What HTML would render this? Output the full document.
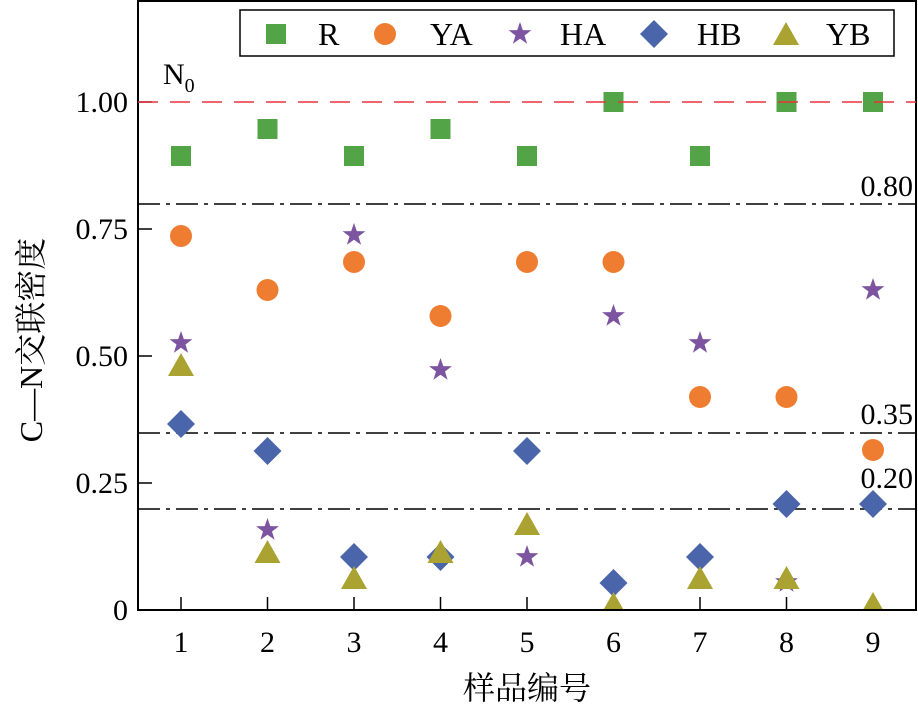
<!DOCTYPE html>
<html><head><meta charset="utf-8"><style>body{margin:0;background:#fff}svg{display:block}</style></head><body>
<svg width="918" height="704" xmlns="http://www.w3.org/2000/svg" font-family="'Liberation Serif','Noto Serif CJK SC',serif">
<defs>
<rect id="sq" x="-10" y="-10" width="20" height="20" fill="#52a447"/>
<circle id="ci" r="11" fill="#ef7d31"/>
<polygon id="st" points="0,-12 2.8,-3.9 11.4,-3.7 4.5,1.5 7.1,9.7 0,4.8 -7.1,9.7 -4.5,1.5 -11.4,-3.7 -2.8,-3.9" fill="#7d54a0"/>
<polygon id="di" points="0,-14 14,0 0,14 -14,0" fill="#4a65aa"/>
<polygon id="tr" points="0,-13 13,10 -13,10" fill="#aaa332"/>
</defs>
<rect x="138" y="1" width="778" height="609" fill="none" stroke="#000" stroke-width="2"/>
<g stroke="#000" stroke-width="1.5" stroke-dasharray="22,6,4,6">
<line x1="138" y1="204" x2="916" y2="204"/>
<line x1="138" y1="433" x2="916" y2="433"/>
<line x1="138" y1="509" x2="916" y2="509"/>
</g>
<g stroke="#000" stroke-width="1.5">
<line x1="138" y1="102" x2="152" y2="102"/><line x1="138" y1="229" x2="152" y2="229"/><line x1="138" y1="356" x2="152" y2="356"/><line x1="138" y1="483" x2="152" y2="483"/>
<line x1="181" y1="610" x2="181" y2="597"/><line x1="267.5" y1="610" x2="267.5" y2="597"/><line x1="354" y1="610" x2="354" y2="597"/><line x1="440.5" y1="610" x2="440.5" y2="597"/><line x1="527" y1="610" x2="527" y2="597"/><line x1="613.5" y1="610" x2="613.5" y2="597"/><line x1="700" y1="610" x2="700" y2="597"/><line x1="786.5" y1="610" x2="786.5" y2="597"/><line x1="873" y1="610" x2="873" y2="597"/>
</g>
<g font-size="30" text-anchor="end">
<text x="128" y="112">1.00</text><text x="128" y="239">0.75</text><text x="128" y="366">0.50</text><text x="128" y="493">0.25</text><text x="128" y="620">0</text>
</g>
<g font-size="30" text-anchor="middle">
<text x="181" y="652">1</text><text x="267.5" y="652">2</text><text x="354" y="652">3</text><text x="440.5" y="652">4</text><text x="527" y="652">5</text><text x="613.5" y="652">6</text><text x="700" y="652">7</text><text x="786.5" y="652">8</text><text x="873" y="652">9</text>
</g>
<text x="527" y="699" font-size="32" text-anchor="middle">样品编号</text>
<text transform="translate(42,340) rotate(-90)" font-size="32" text-anchor="middle">C—N交联密度</text>
<g font-size="30" text-anchor="end">
<text x="913" y="196">0.80</text><text x="913" y="424">0.35</text><text x="913" y="488">0.20</text>
</g>
<text x="163" y="84" font-size="30">N<tspan font-size="20" dy="8">0</tspan></text>
<g>
<use href="#sq" x="181" y="156"/><use href="#sq" x="267.5" y="129"/><use href="#sq" x="354" y="156"/><use href="#sq" x="440.5" y="129"/><use href="#sq" x="527" y="156"/><use href="#sq" x="613.5" y="102"/><use href="#sq" x="700" y="156"/><use href="#sq" x="786.5" y="102"/><use href="#sq" x="873" y="102"/>
<use href="#ci" x="181" y="236"/><use href="#ci" x="267.5" y="290"/><use href="#ci" x="354" y="262"/><use href="#ci" x="440.5" y="316"/><use href="#ci" x="527" y="262"/><use href="#ci" x="613.5" y="262"/><use href="#ci" x="700" y="397"/><use href="#ci" x="786.5" y="397"/><use href="#ci" x="873" y="450"/>
<use href="#st" x="181" y="343"/><use href="#st" x="267.5" y="530"/><use href="#st" x="354" y="235"/><use href="#st" x="440.5" y="370"/><use href="#st" x="527" y="557"/><use href="#st" x="613.5" y="316"/><use href="#st" x="700" y="343"/><use href="#st" x="786.5" y="582"/><use href="#st" x="873" y="290"/>
<use href="#di" x="181" y="424"/><use href="#di" x="267.5" y="451"/><use href="#di" x="354" y="557"/><use href="#di" x="440.5" y="557"/><use href="#di" x="527" y="451"/><use href="#di" x="613.5" y="583"/><use href="#di" x="700" y="557"/><use href="#di" x="786.5" y="504"/><use href="#di" x="873" y="504"/>
<use href="#tr" x="181" y="366"/><use href="#tr" x="267.5" y="553"/><use href="#tr" x="354" y="579"/><use href="#tr" x="440.5" y="553"/><use href="#tr" x="527" y="525"/><use href="#tr" x="613.5" y="605"/><use href="#tr" x="700" y="579"/><use href="#tr" x="786.5" y="579"/><use href="#tr" x="873" y="605"/>
</g>
<rect x="138" y="611" width="778" height="15" fill="#fff"/>
<line x1="138" y1="102" x2="916" y2="102" stroke="#e8343a" stroke-width="1.5" stroke-dasharray="20,12"/>
<rect x="240" y="10" width="654" height="46" fill="#fff" stroke="#000" stroke-width="1.5"/>
<use href="#sq" x="276" y="34"/><text x="318" y="45" font-size="32">R</text>
<use href="#ci" x="385" y="34"/><text x="430" y="45" font-size="32">YA</text>
<use href="#st" x="520" y="34"/><text x="560" y="45" font-size="32">HA</text>
<use href="#di" x="654" y="34"/><text x="697" y="45" font-size="32">HB</text>
<use href="#tr" x="786" y="35"/><text x="826" y="45" font-size="32">YB</text>
<rect x="137" y="609" width="780" height="2" fill="#000"/>
</svg>
</body></html>
